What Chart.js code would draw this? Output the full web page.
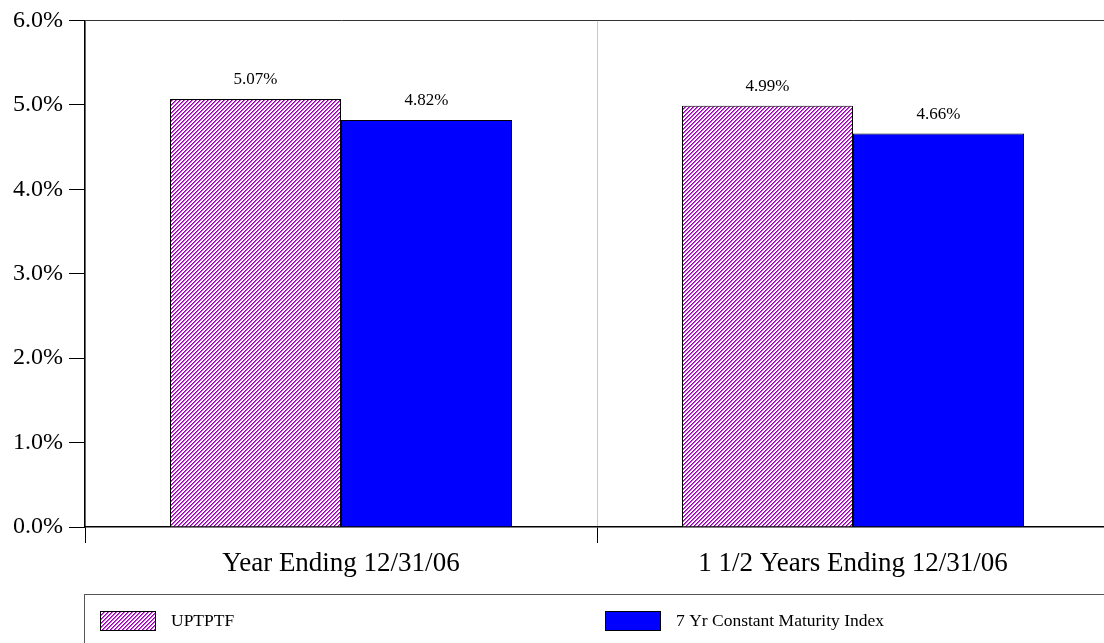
<!DOCTYPE html>
<html>
<head>
<meta charset="utf-8">
<script src="https://cdn.jsdelivr.net/npm/chart.js@4.4.0/dist/chart.umd.min.js"></script>
<style>
    html, body { margin: 0; padding: 0; background: #fff; overflow: hidden; }
    canvas { display: block; }
</style>
</head>
<body>
<canvas id="chart" width="1112" height="643"></canvas>
<script>
const categories = ["Year Ending 12/31/06", "1 1/2 Years Ending 12/31/06"];
const seriesNames = ["UPTPTF", "7 Yr Constant Maturity Index"];
const uptptf = [5.07, 4.99];
const constantMaturity = [4.82, 4.66];
const yMin = 0;
const yMax = 6;
const yStep = 1;

const SERIF = "Liberation Serif, Times New Roman, serif";

// diagonal "/" hatch on a 4px tile, purple stroke with a magenta edge
function hatch(dark, light) {
    const c = document.createElement("canvas");
    c.width = 4;
    c.height = 4;
    const g = c.getContext("2d");
    g.fillStyle = "#fff";
    g.fillRect(0, 0, 4, 4);
    for (let i = 0; i < 4; i++) {
        g.fillStyle = dark;
        g.fillRect(3 - i, i, 1, 1);
        g.fillStyle = light;
        g.fillRect((4 - i) % 4, i, 1, 1);
    }
    return g.createPattern(c, "repeat");
}

const valueLabels = {
    id: "valueLabels",
    afterDatasetsDraw(chart) {
        const ctx = chart.ctx;
        ctx.save();
        ctx.font = `17px ${SERIF}`;
        ctx.fillStyle = "#000";
        ctx.textAlign = "center";
        ctx.textBaseline = "alphabetic";
        chart.data.datasets.forEach((ds, i) => {
            chart.getDatasetMeta(i).data.forEach((bar, j) => {
                ctx.fillText(ds.data[j].toFixed(2) + "%", bar.x, bar.y - 15);
            });
        });
        ctx.restore();
    }
};

// boxed legend under the axis, one item per half of the plot width
const boxLegend = {
    id: "boxLegend",
    afterDraw(chart) {
        const ctx = chart.ctx;
        const area = chart.chartArea;
        const mid = (area.left + area.right) / 2;
        ctx.save();
        ctx.strokeStyle = "#555";
        ctx.lineWidth = 1;
        ctx.strokeRect(area.left - 0.5, 594.5, chart.width, 100);

        ctx.font = `17.5px ${SERIF}`;
        ctx.textBaseline = "middle";
        const starts = [area.left + 15, mid + 8];
        chart.data.datasets.forEach((ds, i) => {
            const x = starts[i];
            ctx.fillStyle = ds.backgroundColor;
            ctx.fillRect(x, 611, 56, 20);
            ctx.strokeStyle = "#000";
            ctx.strokeRect(x + 0.5, 611.5, 55, 19);
            ctx.fillStyle = "#000";
            ctx.fillText(ds.label, x + 71, 621);
        });
        ctx.restore();
    }
};

const ctx = document.getElementById("chart").getContext("2d");
new Chart(ctx, {
    type: "bar",
    data: {
        labels: categories,
        datasets: [
            {
                label: seriesNames[0],
                data: uptptf,
                backgroundColor: hatch("#9000b0", "#d840e4"),
                borderColor: "#000",
                borderWidth: 1
            },
            {
                label: seriesNames[1],
                data: constantMaturity,
                backgroundColor: "#0000ff",
                borderColor: "#000",
                borderWidth: 1
            }
        ]
    },
    options: {
        responsive: false,
        animation: false,
        layout: { padding: { left: 0, right: 3, top: 20, bottom: 56 } },
        datasets: {
            bar: { categoryPercentage: 0.668, barPercentage: 1 }
        },
        scales: {
            x: {
                grid: {
                    offset: true,
                    color: "#c8c8c8",
                    tickColor: "#000",
                    tickLength: 16
                },
                border: { color: "#000", width: 1.5 },
                ticks: {
                    maxRotation: 0,
                    color: "#000",
                    padding: 5,
                    font: { family: SERIF, size: 27 }
                },
                afterFit: s => { s.height = 60; }
            },
            y: {
                min: yMin,
                max: yMax,
                grid: {
                    color: c => c.tick && c.tick.value === yMax ? "#333" : "rgba(0,0,0,0)",
                    tickColor: "#000",
                    tickLength: 16
                },
                border: { color: "#000", width: 1.5 },
                ticks: {
                    stepSize: yStep,
                    color: "#000",
                    padding: 6,
                    font: { family: SERIF, size: 24 },
                    callback: v => v.toFixed(1) + "%"
                },
                afterFit: s => { s.width = 85; }
            }
        },
        plugins: {
            legend: { display: false },
            tooltip: { enabled: false }
        }
    },
    plugins: [valueLabels, boxLegend]
});
</script>
</body>
</html>
